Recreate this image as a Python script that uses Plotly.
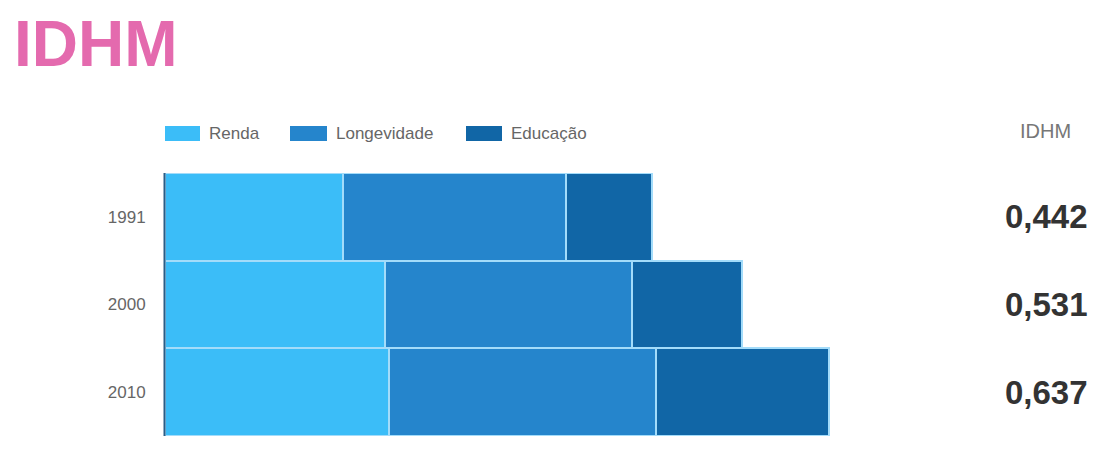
import plotly.graph_objects as go

years = ["1991", "2000", "2010"]
renda = [0.520, 0.643, 0.655]
longevidade = [0.652, 0.722, 0.781]
educacao = [0.251, 0.322, 0.506]
idhm = ["0,442", "0,531", "0,637"]
series_names = ["Renda", "Longevidade", "Educação"]
colors = ["#3bbdf8", "#2585cc", "#1166a6"]

W, H = 1110, 471
L, R, T, B = 165, 849, 173, 436  # plot area in pixels


def px(x):
    return (x - L) / (R - L)


def py(y):
    return (B - y) / (B - T)


fig = go.Figure()
for name, vals, col in zip(series_names, [renda, longevidade, educacao], colors):
    fig.add_trace(go.Bar(
        y=years, x=vals, name=name, orientation="h",
        marker=dict(color=col, line=dict(color="#a3dcfa", width=2)),
        showlegend=False,
    ))

# custom legend
leg_items = [(165, 200, 207), (290, 327, 334), (466, 502, 509)]
shapes = []
annotations = []
for (x0, x1, tx), name, col in zip(leg_items, series_names, colors):
    shapes.append(dict(type="rect", xref="paper", yref="paper",
                       x0=px(x0), x1=px(x1), y0=py(141), y1=py(126),
                       fillcolor=col, line=dict(width=0)))
    annotations.append(dict(xref="paper", yref="paper", x=px(tx), y=py(133.5),
                            text=name, showarrow=False, xanchor="left", yanchor="middle",
                            font=dict(family="Liberation Sans, Arial", size=17, color="#666666")))

# IDHM column
annotations.append(dict(xref="paper", yref="paper", x=px(1045), y=py(131),
                        text="IDHM", showarrow=False, xanchor="center", yanchor="middle",
                        font=dict(family="Liberation Sans, Arial", size=20, color="#777777")))
n = len(years)
for i, v in enumerate(idhm):
    yc = 1 - (i + 0.5) / n
    annotations.append(dict(xref="paper", yref="paper", x=px(1046), y=yc,
                            text="<b>%s</b>" % v, showarrow=False, xanchor="center", yanchor="middle",
                            font=dict(family="Liberation Sans, Arial", size=33, color="#333333")))

# Title
annotations.append(dict(xref="paper", yref="paper", x=px(12), y=py(44),
                        text="<b>IDHM</b>", showarrow=False, xanchor="left", yanchor="middle",
                        font=dict(family="Liberation Sans, Arial", size=64,
                                  color="#e46aae")))

shapes.append(dict(type="line", xref="paper", yref="paper", x0=px(164.5), x1=px(164.5),
                   y0=0, y1=1, line=dict(color="#2a5d86", width=2)))

fig.update_layout(
    width=W, height=H,
    margin=dict(l=L, r=W - R, t=T, b=H - B, pad=0),
    barmode="stack", bargap=0,
    plot_bgcolor="white", paper_bgcolor="white",
    shapes=shapes, annotations=annotations,
    xaxis=dict(range=[0, 2.0], showgrid=False, zeroline=False, showticklabels=False,
               showline=False, ticks=""),
    yaxis=dict(type="category", categoryorder="array", categoryarray=years[::-1],
               showgrid=False, zeroline=False,
               showline=False, ticks="outside", ticklen=15, tickcolor="rgba(0,0,0,0)",
               tickfont=dict(family="Liberation Sans, Arial", size=17, color="#666666")),
)

fig.write_html("out.html")
